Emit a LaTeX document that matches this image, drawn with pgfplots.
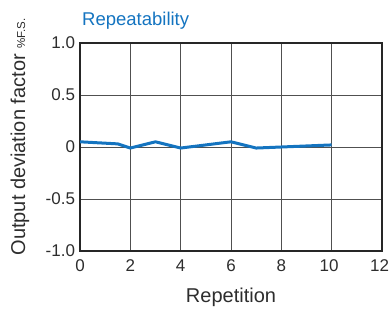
\documentclass[border=0pt]{standalone}
\usepackage{pgfplots}
\pgfplotsset{compat=1.18}
\usepackage{fontspec}
\setmainfont{Liberation Sans}
\definecolor{lineblue}{RGB}{20,116,192}
\definecolor{gridgray}{RGB}{80,80,80}
\definecolor{txt}{RGB}{45,45,45}
\begin{document}
\begin{tikzpicture}[x=1pt,y=1pt]
\useasboundingbox (-80,-57) rectangle (310,251);
\begin{axis}[
  name=ax,
  at={(0,0)}, anchor=south west,
  scale only axis, width=302pt, height=208pt,
  xmin=0, xmax=12, ymin=-1, ymax=1,
  xtick={0,2,...,12}, ytick={-1,-0.5,0,0.5,1},
  xticklabels={0,2,4,6,8,\hspace*{-5pt}10,\hspace*{-5pt}12},
  yticklabels={-1.0,-0.5,0,0.5,1.0},
  major tick length=0pt,
  grid=major,
  grid style={gridgray, line width=1pt},
  axis line style={black!85, line width=1.3pt},
  ticklabel style={font=\fontsize{17}{17}\selectfont, text=txt},
  /pgf/number format/assume math mode=true,
  xticklabel style={yshift=-5pt},
  yticklabel style={xshift=-1.5pt},
]
\addplot[lineblue, line width=3pt, line join=round] coordinates {
(0,0.05) (1.5,0.03) (2,-0.01) (3,0.05) (4,-0.01) (5,0.02) (6,0.05) (7,-0.01) (8,0) (9,0.01) (10,0.02)
};
\end{axis}
\node[anchor=base west, text=lineblue, font=\fontsize{18.5}{18.5}\selectfont, inner sep=0pt] at (2,225) {Repeatability};
\node[anchor=base, text=txt, font=\fontsize{20}{20}\selectfont, inner sep=0pt] at (151,-51) {Repetition};
\node[rotate=90, anchor=center, text=txt, font=\fontsize{20}{20}\selectfont, inner sep=0pt] at (-60,114) {Output deviation factor {\fontsize{11.5}{11.5}\selectfont\%F.S.}};
\end{tikzpicture}
\end{document}
